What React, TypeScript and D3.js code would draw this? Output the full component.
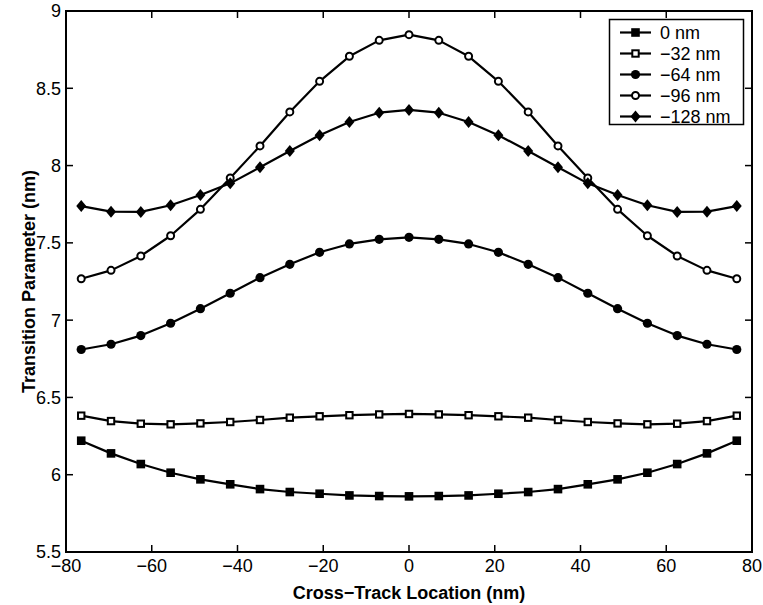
import { useEffect, useRef } from 'react';
import * as d3 from 'd3';

// cross-track positions (nm)
const xPos = [-76.45, -69.5, -62.55, -55.6, -48.65, -41.7, -34.75, -27.8, -20.85, -13.9, -6.95, 0,
  6.95, 13.9, 20.85, 27.8, 34.75, 41.7, 48.65, 55.6, 62.55, 69.5, 76.45];

const seriesNames = ['0 nm', '\u221232 nm', '\u221264 nm', '\u221296 nm', '\u2212128 nm'];

const s0 = [6.22, 6.138, 6.069, 6.013, 5.97, 5.938, 5.907, 5.888, 5.877, 5.866, 5.862, 5.86,
  5.862, 5.866, 5.877, 5.888, 5.907, 5.938, 5.97, 6.013, 6.069, 6.138, 6.22];
const s32 = [6.382, 6.347, 6.33, 6.326, 6.332, 6.341, 6.354, 6.369, 6.378, 6.385, 6.39, 6.393,
  6.39, 6.385, 6.378, 6.369, 6.354, 6.341, 6.332, 6.326, 6.33, 6.347, 6.382];
const s64 = [6.81, 6.844, 6.9, 6.98, 7.074, 7.174, 7.275, 7.361, 7.439, 7.493, 7.523, 7.536,
  7.523, 7.493, 7.439, 7.361, 7.275, 7.174, 7.074, 6.98, 6.9, 6.844, 6.81];
const s96 = [7.268, 7.322, 7.415, 7.546, 7.717, 7.92, 8.127, 8.347, 8.545, 8.707, 8.81, 8.847,
  8.81, 8.707, 8.545, 8.347, 8.127, 7.92, 7.717, 7.546, 7.415, 7.322, 7.268];
const s128 = [7.738, 7.702, 7.70, 7.743, 7.81, 7.885, 7.989, 8.094, 8.196, 8.282, 8.342, 8.36,
  8.342, 8.282, 8.196, 8.094, 7.989, 7.885, 7.81, 7.743, 7.70, 7.702, 7.738];

const xTicks = [-80, -60, -40, -20, 0, 20, 40, 60, 80];
const yTicks = [5.5, 6, 6.5, 7, 7.5, 8, 8.5, 9];

const FONT = '"Liberation Sans", Arial, Helvetica, sans-serif';
const FS = 18;

// marker kinds per series
const markers = ['squareFilled', 'squareOpen', 'circleFilled', 'circleOpen', 'diamond'];

function drawMarker(g: any, kind: string, x: number, y: number) {
  if (kind === 'squareFilled') {
    g.append('rect').attr('x', x - 4.3).attr('y', y - 4.3).attr('width', 8.6).attr('height', 8.6)
      .attr('fill', '#000');
  } else if (kind === 'squareOpen') {
    g.append('rect').attr('x', x - 3.2).attr('y', y - 3.2).attr('width', 6.4).attr('height', 6.4)
      .attr('fill', '#fff').attr('stroke', '#000').attr('stroke-width', 2);
  } else if (kind === 'circleFilled') {
    g.append('circle').attr('cx', x).attr('cy', y).attr('r', 4.6).attr('fill', '#000');
  } else if (kind === 'circleOpen') {
    g.append('circle').attr('cx', x).attr('cy', y).attr('r', 3.5)
      .attr('fill', '#fff').attr('stroke', '#000').attr('stroke-width', 2);
  } else {
    g.append('path')
      .attr('d', `M${x},${y - 6}L${x + 5},${y}L${x},${y + 6}L${x - 5},${y}Z`)
      .attr('fill', '#000');
  }
}

export default function App() {
  const ref = useRef<SVGSVGElement>(null);

  useEffect(() => {
    const width = 763;
    const height = 605;
    const margin = { top: 11, right: 11, bottom: 53, left: 66 };
    const innerWidth = width - margin.left - margin.right;
    const innerHeight = height - margin.top - margin.bottom;

    const svg = d3.select(ref.current);
    svg.selectAll('*').remove();

    const g = svg.append('g').attr('transform', `translate(${margin.left},${margin.top})`);

    const xScale = d3.scaleLinear().domain([-80, 80]).range([0, innerWidth]);
    const yScale = d3.scaleLinear().domain([5.5, 9]).range([innerHeight, 0]);
    const fmt = (d: number) => String(d).replace('-', '\u2212');

    const tickLen = 7;
    // inward ticks on all four sides
    xTicks.forEach((t) => {
      const x = xScale(t);
      g.append('line').attr('x1', x).attr('x2', x).attr('y1', innerHeight).attr('y2', innerHeight - tickLen)
        .attr('stroke', '#000').attr('stroke-width', 1.5);
      g.append('line').attr('x1', x).attr('x2', x).attr('y1', 0).attr('y2', tickLen)
        .attr('stroke', '#000').attr('stroke-width', 1.5);
      g.append('text').attr('x', x).attr('y', innerHeight + 20).attr('text-anchor', 'middle')
        .attr('font-family', FONT).attr('font-size', FS).text(fmt(t));
    });
    yTicks.forEach((t) => {
      const y = yScale(t);
      g.append('line').attr('x1', 0).attr('x2', tickLen).attr('y1', y).attr('y2', y)
        .attr('stroke', '#000').attr('stroke-width', 1.5);
      g.append('line').attr('x1', innerWidth).attr('x2', innerWidth - tickLen).attr('y1', y).attr('y2', y)
        .attr('stroke', '#000').attr('stroke-width', 1.5);
      g.append('text').attr('x', -5).attr('y', y).attr('dy', '0.36em').attr('text-anchor', 'end')
        .attr('font-family', FONT).attr('font-size', FS).text(fmt(t));
    });

    g.append('rect').attr('width', innerWidth).attr('height', innerHeight)
      .attr('fill', 'none').attr('stroke', '#000').attr('stroke-width', 2);

    const allSeries = [s0, s32, s64, s96, s128];
    const line = d3.line<number>().x((_, i) => xScale(xPos[i])).y((d) => yScale(d));

    allSeries.forEach((vals, si) => {
      const sg = g.append('g');
      sg.append('path').attr('d', line(vals)).attr('fill', 'none')
        .attr('stroke', '#000').attr('stroke-width', 2.2).attr('stroke-linejoin', 'round');
      vals.forEach((v, i) => drawMarker(sg, markers[si], xScale(xPos[i]), yScale(v)));
    });

    // legend
    const lg = svg.append('g');
    lg.append('rect').attr('x', 609.5).attr('y', 19.5).attr('width', 134).attr('height', 105)
      .attr('fill', '#fff').attr('stroke', '#000').attr('stroke-width', 1.5);
    seriesNames.forEach((name, i) => {
      const y = 32.5 + i * 21;
      lg.append('line').attr('x1', 620).attr('x2', 651).attr('y1', y).attr('y2', y)
        .attr('stroke', '#000').attr('stroke-width', 2.2);
      drawMarker(lg, markers[i], 635.5, y);
      lg.append('text').attr('x', 660).attr('y', y).attr('dy', '0.36em')
        .attr('font-family', FONT).attr('font-size', FS).text(name);
    });

    // axis titles
    svg.append('text').attr('x', margin.left + innerWidth / 2).attr('y', 599)
      .attr('text-anchor', 'middle').attr('font-family', FONT).attr('font-size', FS)
      .attr('font-weight', 'bold').text('Cross\u2212Track Location (nm)');

    svg.append('text')
      .attr('transform', `translate(35,${margin.top + innerHeight / 2}) rotate(-90)`)
      .attr('text-anchor', 'middle').attr('font-family', FONT).attr('font-size', FS)
      .attr('font-weight', 'bold').text('Transition Parameter (nm)');
  }, []);

  return (
    <svg ref={ref} width={763} height={605}
      style={{ position: 'absolute', left: 0, top: 0, background: '#fff' }} />
  );
}
